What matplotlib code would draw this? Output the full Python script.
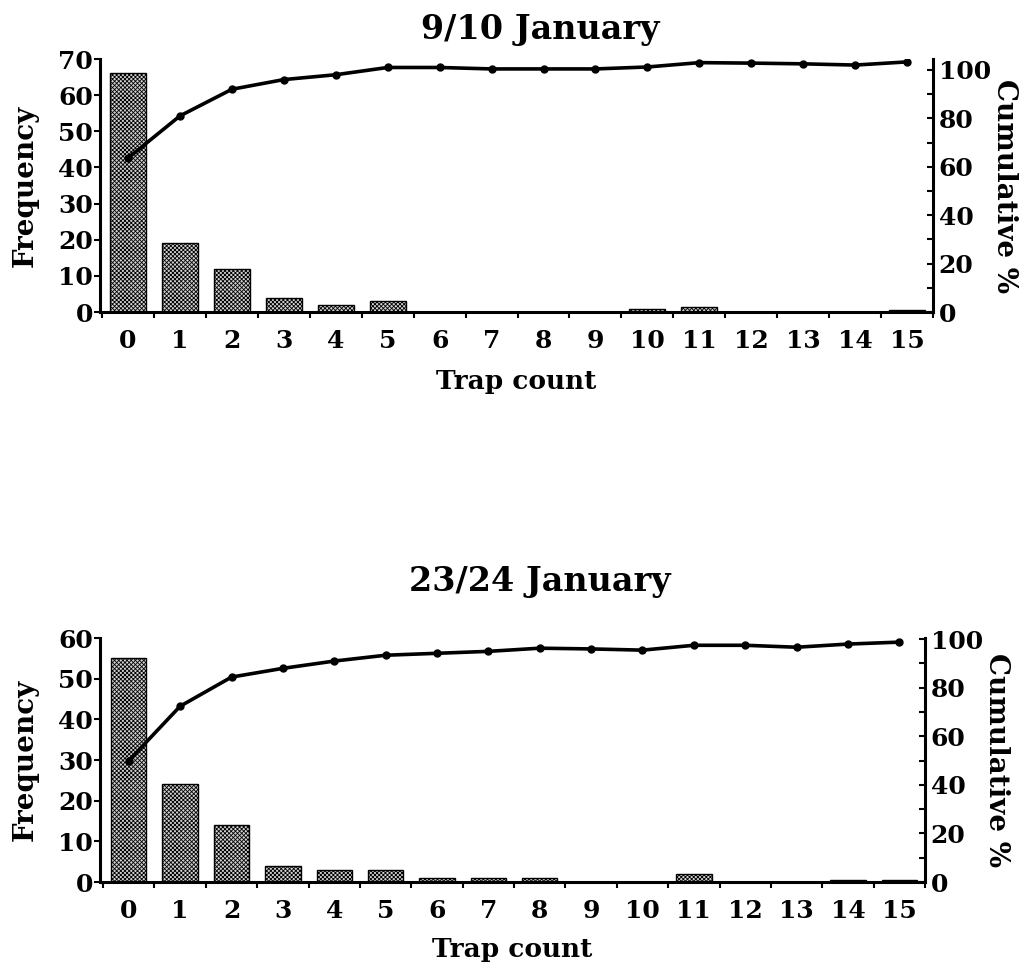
import numpy as np
import matplotlib.pyplot as plt
import matplotlib as mpl

plt.rcParams['font.family'] = ['DejaVu Serif']
plt.rcParams['font.weight'] = 'bold'
plt.rcParams['hatch.color'] = '#6a6a6a'
plt.rcParams['hatch.linewidth'] = 0.6

# 数据
trap_count = list(range(16))
freq_jan9 = [66, 19, 12, 4, 2, 3, 0, 0, 0, 0, 0.7, 1.5, 0, 0, 0, 0.5]
cum_jan9 = [63.6, 81, 92, 96, 98, 101, 101, 100.4, 100.4, 100.4, 101.2, 103, 102.8, 102.5, 102, 103.3]
freq_jan23 = [55, 24, 14, 4, 3, 3, 1, 1, 1, 0, 0, 2, 0, 0, 0.5, 0.5]
cum_jan23 = [50, 72.4, 84.4, 88, 91, 93.4, 94.2, 95, 96.3, 96, 95.5, 97.5, 97.5, 96.7, 98, 98.8]

panels = [
    dict(title='9/10 January', freq=freq_jan9, cum=cum_jan9,
         rect=[100/1030, 1-312/975, 833/1030, 253/975],
         ylim=70, ytop_r=104.5, xlim=(-0.54, 15.44), title_y=29, xlpad=12),
    dict(title='23/24 January', freq=freq_jan23, cum=cum_jan23,
         rect=[100/1030, 1-882/975, 825/1030, 244/975],
         ylim=60, ytop_r=100.5, xlim=(-0.56, 15.49), title_y=581, xlpad=10),
]

fig = plt.figure(figsize=(10.3, 9.75), dpi=100)

for p in panels:
    ax = fig.add_axes(p['rect'])
    ax.bar(trap_count, p['freq'], width=0.69, facecolor='#d2d2d2',
           edgecolor='black', linewidth=1.0, hatch='xxxxxxxx', zorder=2)
    ax.set_xlim(*p['xlim'])
    ax.set_ylim(0, p['ylim'])
    ax.set_yticks(np.arange(0, p['ylim'] + 1, 10))
    ax.set_xticks(trap_count)
    ax.set_xticks(np.arange(-0.5, 15.6, 1), minor=True)
    ax.tick_params(axis='x', which='major', length=0, pad=12, labelsize=18)
    ax.tick_params(axis='x', which='minor', length=4, width=1.5, direction='out')
    ax.tick_params(axis='y', length=4, width=1.5, direction='out', labelsize=18, pad=1)
    for s in ['left', 'bottom']:
        ax.spines[s].set_linewidth(2.2)
    ax.spines['top'].set_visible(False)
    ax.spines['right'].set_visible(False)
    ax.set_xlabel('Trap count', fontsize=19, fontweight='bold', labelpad=p['xlpad'])
    ax.set_ylabel('Frequency', fontsize=20, fontweight='bold', labelpad=14)

    ax2 = ax.twinx()
    ax2.plot(trap_count, p['cum'], color='black', linewidth=2.6,
             marker='o', markersize=5, zorder=3)
    ax2.set_ylim(0, p['ytop_r'])
    ax2.set_yticks(np.arange(0, 101, 20))
    ax2.set_yticks(np.arange(0, 101, 10), minor=True)
    ax2.tick_params(axis='y', which='both', length=4, width=1.5, direction='in',
                    labelsize=18, pad=4)
    ax2.spines['right'].set_linewidth(2.2)
    ax2.spines['top'].set_visible(False)
    ax2.spines['left'].set_visible(False)
    ax2.spines['bottom'].set_visible(False)
    ax2.set_ylabel('Cumulative %', fontsize=20, fontweight='bold',
                   rotation=-90, labelpad=20)

    fig.text(540/1030, 1 - p['title_y']/975, p['title'], ha='center', va='center',
             fontsize=24, fontweight='bold')

fig.savefig('out.png', dpi=100)
